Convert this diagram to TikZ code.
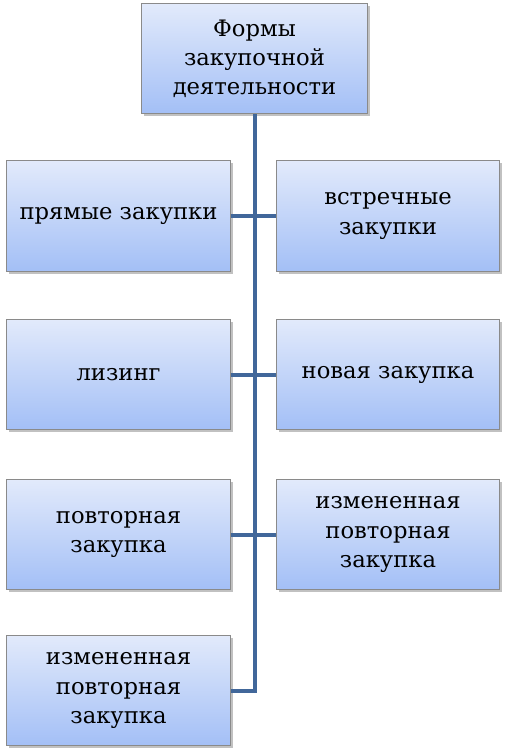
\documentclass[tikz,border=0pt]{standalone}
\usepackage{fontspec}
\newfontfamily\formfont{DejaVu Serif}
\usetikzlibrary{shadows}

\definecolor{boxtop}{HTML}{E2EAFB}
\definecolor{boxbot}{HTML}{A3BFF6}
\definecolor{boxline}{HTML}{8A8A8A}
\definecolor{linkblue}{HTML}{41679A}

\begin{document}
\begin{tikzpicture}[x=0.75pt,y=-0.75pt,
	form/.style={draw=boxline, line width=0.6pt, top color=boxtop, bottom color=boxbot,
		minimum width=167.5pt, minimum height=83pt, align=center, inner sep=2pt,
		font=\formfont\fontsize{17}{21.8}\selectfont,
		drop shadow={shadow xshift=1.8pt, shadow yshift=-1.8pt, opacity=0.35, fill=black!70}},
	link/.style={draw=linkblue, line width=3pt}]

	\useasboundingbox (0,0) rectangle (508,754);

	% head of the chart
	\node[form, minimum width=170pt] (forms) at (254.5,58.5) {Формы\\закупочной\\деятельности};

	% left column
	\node[form] (left1) at (118.5,216) {прямые закупки};
	\node[form] (left2) at (118.5,374.5) {лизинг};
	\node[form] (left3) at (118.5,534.5) {повторная\\закупка};
	\node[form] (left4) at (118.5,690.5) {измененная\\повторная\\закупка};

	% right column
	\node[form] (right1) at (388,216) {встречные\\закупки};
	\node[form] (right2) at (388,374.5) {новая закупка};
	\node[form] (right3) at (388,534.5) {измененная\\повторная\\закупка};

	% connectors
	\draw[link] (forms.south) |- (left4.east);
	\draw[link] (left1.east) -- (right1.west);
	\draw[link] (left2.east) -- (right2.west);
	\draw[link] (left3.east) -- (right3.west);

\end{tikzpicture}
\end{document}
